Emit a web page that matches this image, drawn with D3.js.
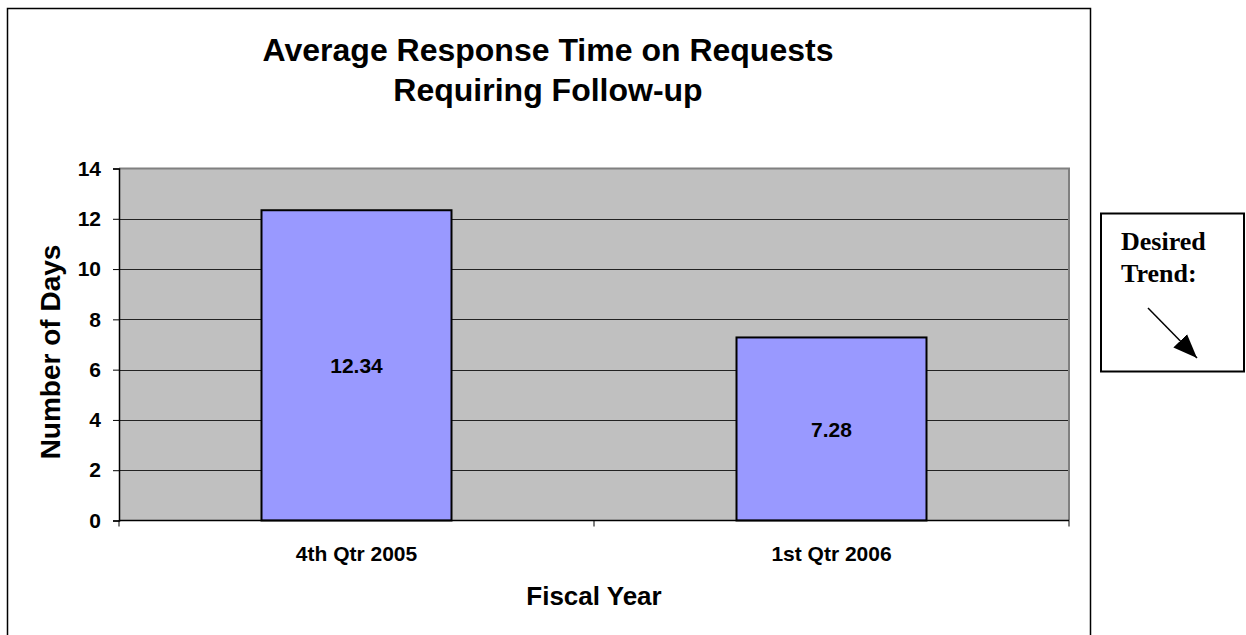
<!DOCTYPE html>
<html>
<head>
<meta charset="utf-8">
<script src="https://cdn.jsdelivr.net/npm/d3@7"></script>
<style>
  html, body { margin: 0; padding: 0; background: #fff; }
  svg { display: block; }
</style>
</head>
<body>
<svg id="chart" width="1246" height="635"></svg>
<script>
const categories = ["4th Qtr 2005", "1st Qtr 2006"];
const values = [12.34, 7.28];
const valueLabels = ["12.34", "7.28"];
const yTicks = [0, 2, 4, 6, 8, 10, 12, 14];
const titleLines = ["Average Response Time on Requests", "Requiring Follow-up"];
const xTitle = "Fiscal Year";
const yTitle = "Number of Days";
const trendLines = ["Desired", "Trend:"];

const svg = d3.select("#chart");
const sans = "'Liberation Sans', Arial, sans-serif";
const serif = "'Liberation Serif', 'Times New Roman', serif";

// outer chart frame
svg.append("rect").attr("x", 7.5).attr("y", 8.5).attr("width", 1083).attr("height", 640)
  .attr("fill", "#fff").attr("stroke", "#000").attr("stroke-width", 1.5);

const plot = { left: 119, right: 1069, top: 168.5, bottom: 520.5 };

const x = d3.scaleBand().domain(categories).range([plot.left, plot.right])
  .paddingInner(0.6).paddingOuter(0.3);
const xEdge = d3.scaleBand().domain(categories).range([plot.left, plot.right]).padding(0);
const y = d3.scaleLinear().domain([0, 14]).range([plot.bottom, plot.top]);

// plot area background
svg.append("rect").attr("x", plot.left).attr("y", plot.top)
  .attr("width", plot.right - plot.left).attr("height", plot.bottom - plot.top)
  .attr("fill", "#C0C0C0");

// gridlines
svg.append("g").selectAll("line").data(yTicks.filter(d => d > 0 && d < 14)).join("line")
  .attr("x1", plot.left).attr("x2", plot.right)
  .attr("y1", d => Math.round(y(d)) + 0.5).attr("y2", d => Math.round(y(d)) + 0.5)
  .attr("stroke", "#222").attr("stroke-width", 1);

// plot border top/right (gray)
svg.append("path")
  .attr("d", `M${plot.left},${plot.top} H${plot.right} V${plot.bottom}`)
  .attr("fill", "none").attr("stroke", "#808080").attr("stroke-width", 2);

// bars
svg.append("g").selectAll("rect").data(values).join("rect")
  .attr("x", (d, i) => x(categories[i]))
  .attr("y", d => y(d))
  .attr("width", x.bandwidth())
  .attr("height", d => y(0) - y(d))
  .attr("fill", "#9999FF").attr("stroke", "#000").attr("stroke-width", 2);

// value labels
svg.append("g").selectAll("text").data(values).join("text")
  .attr("x", (d, i) => x(categories[i]) + x.bandwidth() / 2)
  .attr("y", d => (y(d) + y(0)) / 2)
  .attr("dy", "0.36em")
  .attr("text-anchor", "middle")
  .attr("font-family", sans).attr("font-weight", "bold").attr("font-size", 21)
  .text((d, i) => valueLabels[i]);

// y axis
const yAxis = d3.axisLeft(y).tickValues(yTicks).tickSize(6).tickPadding(12).tickFormat(d3.format("d"));
const gy = svg.append("g").attr("transform", `translate(${plot.left},0)`).call(yAxis);
gy.select(".domain").attr("stroke", "#000").attr("stroke-width", 1.5);
gy.selectAll(".tick line").attr("stroke", "#000");
gy.selectAll("text").attr("font-family", sans).attr("font-weight", "bold").attr("font-size", 21).attr("fill", "#000");

// x axis line with ticks at category edges
svg.append("line").attr("x1", plot.left).attr("x2", plot.right)
  .attr("y1", plot.bottom).attr("y2", plot.bottom).attr("stroke", "#000").attr("stroke-width", 1.5);
const edges = categories.map(c => xEdge(c)).concat([plot.right]);
svg.append("g").selectAll("line").data(edges).join("line")
  .attr("x1", d => d).attr("x2", d => d)
  .attr("y1", plot.bottom).attr("y2", plot.bottom + 6)
  .attr("stroke", "#000").attr("stroke-width", 1);

// x category labels
svg.append("g").selectAll("text").data(categories).join("text")
  .attr("x", d => x(d) + x.bandwidth() / 2)
  .attr("y", 561)
  .attr("text-anchor", "middle")
  .attr("font-family", sans).attr("font-weight", "bold").attr("font-size", 21)
  .text(d => d);

// title
svg.append("g").selectAll("text").data(titleLines).join("text")
  .attr("x", 548).attr("y", (d, i) => 61 + i * 40)
  .attr("text-anchor", "middle")
  .attr("font-family", sans).attr("font-weight", "bold").attr("font-size", 32)
  .text(d => d);

// axis titles
svg.append("text").attr("x", 594).attr("y", 605).attr("text-anchor", "middle")
  .attr("font-family", sans).attr("font-weight", "bold").attr("font-size", 26).text(xTitle);
svg.append("text").attr("transform", "translate(60,352) rotate(-90)").attr("text-anchor", "middle")
  .attr("font-family", sans).attr("font-weight", "bold").attr("font-size", 28).text(yTitle);

// desired trend box
svg.append("rect").attr("x", 1101).attr("y", 213.5).attr("width", 143).attr("height", 158)
  .attr("fill", "#fff").attr("stroke", "#000").attr("stroke-width", 2);
svg.append("g").selectAll("text").data(trendLines).join("text")
  .attr("x", 1121).attr("y", (d, i) => 250 + i * 32)
  .attr("font-family", serif).attr("font-weight", "bold").attr("font-size", 26)
  .text(d => d);

svg.append("defs").append("marker").attr("id", "arrow")
  .attr("viewBox", "0 0 10 10").attr("refX", 10).attr("refY", 5)
  .attr("markerWidth", 24).attr("markerHeight", 24).attr("markerUnits", "userSpaceOnUse")
  .attr("orient", "auto")
  .append("path").attr("d", "M0,1 L10,5 L0,9 Z").attr("fill", "#000");
svg.append("line").attr("x1", 1148).attr("y1", 308).attr("x2", 1197).attr("y2", 358)
  .attr("stroke", "#000").attr("stroke-width", 1.5).attr("marker-end", "url(#arrow)");
</script>
</body>
</html>
